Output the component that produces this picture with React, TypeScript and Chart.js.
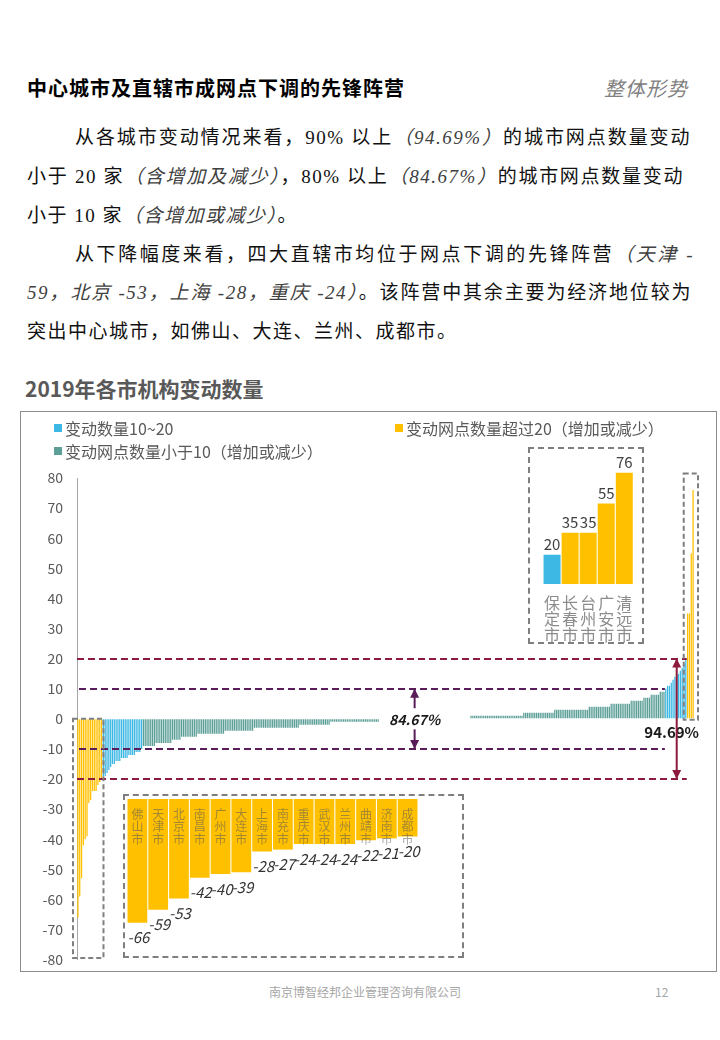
import React, { useEffect, useRef } from "react";
import { Chart, registerables } from "chart.js";

Chart.register(...registerables);

// ---------- colours ----------
const YELLOW = "#FFC000";
const BLUE = "#3DB7E4";
const TEAL = "#5C9F97";
const PURPLE = "#5a1d59";
const CRIMSON = "#8c1b3d";
const FONT = '"Noto Sans CJK SC", "Noto Sans", sans-serif';

// ---------- main chart data (sorted change per city, 339 cities) ----------
const negLarge = [-66, -59, -53, -42, -40, -39, -28, -27, -24, -24, -24, -22, -21, -20];
const negMid = [-19, -19, -18, -17, -16, -15, -15, -14, -14, -14, -13, -13, -13, -13, -12, -12, -12, -12, -11, -11, -11, -10];
const negSmall = [
  -9, -9, -9, -9, -9, -9, -9,
  -8, -8, -8, -8, -8, -8, -8, -8, -8,
  -7, -7, -7, -7, -7,
  -6, -6, -6, -6, -6, -6, -6, -6, -6,
  -5, -5, -5, -5, -5, -5, -5, -5, -5, -5, -5, -5, -5, -5, -5,
  -4, -4, -4, -4, -4, -4, -4, -4, -4, -4, -4, -4, -4, -4, -4, -4,
  -3, -3, -3, -3, -3, -3, -3, -3, -3, -3, -3, -3, -3, -3, -3, -3, -3, -3, -3, -3, -3, -3, -3, -3, -3,
  -2, -2, -2, -2, -2, -2, -2, -2, -2, -2, -2, -2, -2, -2, -2, -2, -2,
  -1, -1, -1, -1, -1, -1, -1, -1, -1, -1, -1, -1, -1, -1, -1, -1, -1, -1, -1, -1, -1, -1, -1, -1, -1, -1, -1,
];
const zeroGroup = [
  0, 0, 0, 0, 0, 0, 0, 0, 0, 0, 0, 0, 0, 0, 0, 0, 0, 0, 0, 0, 0, 0, 0, 0, 0,
  0, 0, 0, 0, 0, 0, 0, 0, 0, 0, 0, 0, 0, 0, 0, 0, 0, 0, 0, 0, 0, 0, 0, 0, 0,
];
const posSmall = [
  1, 1, 1, 1, 1, 1, 1, 1, 1, 1, 1, 1, 1, 1, 1, 1, 1, 1, 1, 1, 1, 1, 1, 1, 1, 1, 1, 1, 1,
  2, 2, 2, 2, 2, 2, 2, 2, 2, 2, 2, 2, 2, 2, 2, 2, 2,
  3, 3, 3, 3, 3, 3, 3, 3, 3, 3, 3, 3, 3, 3, 3, 3, 3, 3, 3,
  4, 4, 4, 4, 4, 4, 4, 4, 4, 4, 4, 4,
  5, 5, 5, 5, 5, 5, 5, 5, 5, 5, 5,
  6, 6, 6, 6, 6, 6, 6,
  7, 7, 7, 7,
  8, 8, 8, 8, 8,
  9, 9, 9,
];
const posMid = [10, 11, 11, 12, 13, 14, 15, 15, 16, 17, 18, 20];
const posLarge = [35, 35, 55, 76];

const legendLabels = ["变动数量10~20", "变动网点数量超过20（增加或减少）", "变动网点数量小于10（增加或减少）"];
const pctUnder10 = "84.67%";
const pctUnder20 = "94.69%";
const arrow84Index = 185;
const arrow94Index = 329;

// ---------- insets ----------
const bottomCities = ["佛山市", "天津市", "北京市", "南昌市", "广州市", "大连市", "上海市", "南充市", "重庆市", "武汉市", "兰州市", "曲靖市", "济南市", "成都市"];
const bottomValues = [-66, -59, -53, -42, -40, -39, -28, -27, -24, -24, -24, -22, -21, -20];
const topCities = ["保定市", "长春市", "台州市", "广安市", "清远市"];
const topValues = [20, 35, 35, 55, 76];

const MAIN_W = 695;
const MAIN_H = 569;

function MainChart() {
  const ref = useRef<HTMLCanvasElement>(null);
  useEffect(() => {
    const groups: [number[], string][] = [
      [negLarge, "y"], [negMid, "b"], [negSmall, "t"], [zeroGroup, "t"],
      [posSmall, "t"], [posMid, "b"], [posLarge, "y"],
    ];
    const pick = (k: string) => {
      const out: (number | null)[] = [];
      groups.forEach(([arr, c]) => arr.forEach((v) => out.push(c === k ? v : null)));
      return out;
    };
    const total = groups.reduce((s, [a]) => s + a.length, 0);
    const labels = Array.from({ length: total }, (_, i) => String(i + 1));
    const iPosMid = negLarge.length + negMid.length + negSmall.length + zeroGroup.length + posSmall.length;
    const iPosLarge = iPosMid + posMid.length;

    const annot = {
      id: "annot",
      afterDatasetsDraw(chart: any) {
        const { ctx, chartArea: ca, scales } = chart;
        const x = scales.x, y = scales.y;
        const step = x.getPixelForValue(1) - x.getPixelForValue(0);
        const leftEdge = (i: number) => x.getPixelForValue(i) - step / 2;
        ctx.save();
        const hline = (v: number, x1: number, x2: number, color: string) => {
          ctx.beginPath();
          ctx.strokeStyle = color;
          ctx.lineWidth = 2;
          ctx.setLineDash([7, 4]);
          ctx.moveTo(x1, Math.round(y.getPixelForValue(v)));
          ctx.lineTo(x2, Math.round(y.getPixelForValue(v)));
          ctx.stroke();
        };
        hline(10, ca.left + 2, leftEdge(iPosMid), PURPLE);
        hline(-10, ca.left + 2, leftEdge(iPosMid), PURPLE);
        hline(20, ca.left, leftEdge(iPosLarge), CRIMSON);
        hline(-20, ca.left, leftEdge(iPosLarge), CRIMSON);

        ctx.setLineDash([5, 3]);
        ctx.strokeStyle = "#7f7f7f";
        ctx.lineWidth = 2;
        const lx1 = ca.left - 4, lx2 = leftEdge(negLarge.length) + 1;
        const ly1 = y.getPixelForValue(0), ly2 = y.getPixelForValue(-79.5);
        ctx.strokeRect(lx1, ly1, lx2 - lx1, ly2 - ly1);
        const rx1 = leftEdge(iPosLarge) - 3, rx2 = ca.right + 4;
        const ry1 = y.getPixelForValue(81.5), ry2 = y.getPixelForValue(0) + 1;
        ctx.strokeRect(rx1, ry1, rx2 - rx1, ry2 - ry1);

        ctx.setLineDash([]);
        const arrow = (xp: number, y1: number, y2: number, color: string, both: boolean) => {
          ctx.strokeStyle = color;
          ctx.fillStyle = color;
          ctx.lineWidth = 2;
          ctx.beginPath();
          ctx.moveTo(xp, y1);
          ctx.lineTo(xp, y2);
          ctx.stroke();
          const head = (tip: number, dir: number) => {
            ctx.beginPath();
            ctx.moveTo(xp, tip);
            ctx.lineTo(xp - 4.5, tip - dir * 9);
            ctx.lineTo(xp + 4.5, tip - dir * 9);
            ctx.closePath();
            ctx.fill();
          };
          head(y2, Math.sign(y2 - y1));
          if (both) head(y1, Math.sign(y1 - y2));
        };
        const xa = x.getPixelForValue(arrow84Index);
        arrow(xa, y.getPixelForValue(3.5), y.getPixelForValue(10), PURPLE, false);
        arrow(xa, y.getPixelForValue(-3.5), y.getPixelForValue(-10), PURPLE, false);
        ctx.font = `italic bold 14px ${FONT}`;
        ctx.fillStyle = "#1a1a1a";
        ctx.textAlign = "center";
        ctx.textBaseline = "middle";
        ctx.fillText(pctUnder10, xa, y.getPixelForValue(0) + 1);
        const xb = x.getPixelForValue(arrow94Index);
        ctx.font = `bold 15px ${FONT}`;
        ctx.fillStyle = "#1a1a1a";
        ctx.fillText(pctUnder20, xb - 5, y.getPixelForValue(-4.6));
        arrow(xb, y.getPixelForValue(-20), y.getPixelForValue(20), CRIMSON, true);
        ctx.restore();
      },
    };

    const chart = new Chart(ref.current!, {
      type: "bar",
      data: {
        labels,
        datasets: [
          { label: legendLabels[0], data: pick("b"), backgroundColor: BLUE },
          { label: legendLabels[1], data: pick("y"), backgroundColor: YELLOW },
          { label: legendLabels[2], data: pick("t"), backgroundColor: TEAL },
        ],
      },
      options: {
        responsive: false,
        animation: false,
        layout: { padding: { top: 65, bottom: 0, right: 22, left: 0 } },
        plugins: { legend: { display: false }, tooltip: { enabled: false } },
        datasets: { bar: { grouped: false, barPercentage: 0.7, categoryPercentage: 1, borderWidth: 0 } },
        scales: {
          x: { display: false, offset: true },
          y: {
            min: -80,
            max: 80,
            ticks: { stepSize: 10, padding: 14, color: "#595959", font: { family: FONT, size: 14 } },
            grid: { display: true, drawOnChartArea: false, drawTicks: false },
            border: { display: true, color: "#a6a6a6", width: 1 },
            afterFit: (s: any) => { s.width = 56; },
          },
        },
      } as any,
      plugins: [annot],
    });
    return () => chart.destroy();
  }, []);
  return <canvas ref={ref} width={MAIN_W} height={MAIN_H} style={{ position: "absolute", left: 21, top: 413, width: MAIN_W, height: MAIN_H }} />;
}

function TopInset() {
  const ref = useRef<HTMLCanvasElement>(null);
  useEffect(() => {
    const valueLabels = {
      id: "vl",
      afterDatasetsDraw(chart: any) {
        const { ctx } = chart;
        const meta = chart.getDatasetMeta(0);
        ctx.save();
        ctx.font = `15px ${FONT}`;
        ctx.fillStyle = "#404040";
        ctx.textAlign = "center";
        ctx.textBaseline = "bottom";
        meta.data.forEach((el: any, i: number) => {
          ctx.fillText(String(topValues[i]), el.x, Math.max(el.y - 3, 23));
        });
        ctx.restore();
      },
    };
    const chart = new Chart(ref.current!, {
      type: "bar",
      data: {
        labels: topCities.map((c) => c.split("")),
        datasets: [{
          data: topValues,
          backgroundColor: topValues.map((v) => (v > 20 ? YELLOW : BLUE)),
          barPercentage: 0.94,
          categoryPercentage: 1,
        }],
      },
      options: {
        responsive: false,
        animation: false,
        layout: { padding: { left: 15, right: 7, top: 20, bottom: 0 } },
        plugins: { legend: { display: false }, tooltip: { enabled: false } },
        scales: {
          y: { display: false, min: 0, max: 80 },
          x: {
            grid: { display: false, drawTicks: false },
            border: { display: false },
            ticks: { color: "#8c8c8c", font: { family: FONT, size: 16, lineHeight: 1 }, padding: 11, autoSkip: false, maxRotation: 0 },
            afterFit: (s: any) => { s.height = 60; },
          },
        },
      } as any,
      plugins: [valueLabels],
    });
    return () => chart.destroy();
  }, []);
  return <canvas ref={ref} width={116} height={197} style={{ position: "absolute", left: 528, top: 447, width: 116, height: 197 }} />;
}

function BottomInset() {
  const ref = useRef<HTMLCanvasElement>(null);
  useEffect(() => {
    const labelsPlugin = {
      id: "bl",
      afterDatasetsDraw(chart: any) {
        const { ctx, chartArea } = chart;
        const meta = chart.getDatasetMeta(0);
        ctx.save();
        ctx.textAlign = "center";
        ctx.textBaseline = "middle";
        meta.data.forEach((el: any, i: number) => {
          ctx.font = `12px ${FONT}`;
          ctx.fillStyle = "rgba(90,90,90,0.55)";
          bottomCities[i].split("").forEach((ch, k) => {
            ctx.fillText(ch, el.x, chartArea.top + 15 + k * 12.5);
          });
          ctx.font = `italic 15px ${FONT}`;
          ctx.fillStyle = "#333333";
          ctx.fillText(String(bottomValues[i]), el.x + 1, el.y + 15);
        });
        ctx.restore();
      },
    };
    const chart = new Chart(ref.current!, {
      type: "bar",
      data: {
        labels: bottomCities,
        datasets: [{ data: bottomValues, backgroundColor: YELLOW, barPercentage: 0.95, categoryPercentage: 1 }],
      },
      options: {
        responsive: false,
        animation: false,
        layout: { padding: { left: 4, right: 46, top: 5, bottom: 9 } },
        plugins: { legend: { display: false }, tooltip: { enabled: false } },
        scales: {
          x: { display: false },
          y: { display: false, min: -80, max: 0 },
        },
      } as any,
      plugins: [labelsPlugin],
    });
    return () => chart.destroy();
  }, []);
  return <canvas ref={ref} width={341} height={164} style={{ position: "absolute", left: 123, top: 794, width: 341, height: 164 }} />;
}

const P = { fontFamily: '"Liberation Serif", "Noto Sans CJK SC", serif', fontSize: 19, letterSpacing: 1.5, color: "#111", lineHeight: "22px", height: 22, position: "absolute" as const };
const IT = { fontStyle: "italic" as const, color: "#404040" };

function Line({ left, top, right, justify, children }: any) {
  return (
    <div style={{ ...P, left, top, width: right ? right - left : undefined, whiteSpace: right ? "normal" : "nowrap", textAlign: justify ? "justify" : "left", textAlignLast: justify ? "justify" : "auto" } as any}>
      {children}
    </div>
  );
}

function LegendItem({ left, top, color, text }: any) {
  return (
    <div style={{ position: "absolute", left, top, height: 20, display: "flex", alignItems: "center", fontFamily: FONT, fontSize: 16, color: "#595959", whiteSpace: "nowrap" }}>
      <span style={{ display: "inline-block", width: 8, height: 8, background: color, marginRight: 3 }} />
      {text}
    </div>
  );
}

export default function App() {
  return (
    <div style={{ position: "absolute", left: 0, top: 0, width: 720, height: 1040, background: "#fff", overflow: "hidden" }}>
      <div style={{ position: "absolute", left: 27, top: 76, fontFamily: FONT, fontWeight: 700, fontSize: 20, letterSpacing: 1, color: "#000", lineHeight: "24px", whiteSpace: "nowrap" }}>
        中心城市及直辖市成网点下调的先锋阵营
      </div>
      <div style={{ position: "absolute", left: 604, top: 76, fontFamily: FONT, fontStyle: "italic", fontSize: 20, letterSpacing: 1, color: "#808080", lineHeight: "24px", whiteSpace: "nowrap" }}>
        整体形势
      </div>

      <Line left={75} top={127} right={691} justify>
        从各城市变动情况来看，90% 以上<span style={IT}>（94.69%）</span>的城市网点数量变动
      </Line>
      <Line left={27} top={166} right={684} justify>
        小于 20 家<span style={IT}>（含增加及减少）</span>，80% 以上<span style={IT}>（84.67%）</span>的城市网点数量变动
      </Line>
      <Line left={27} top={205}>
        小于 10 家<span style={IT}>（含增加或减少）</span>。
      </Line>
      <Line left={75} top={244} right={694} justify>
        从下降幅度来看，四大直辖市均位于网点下调的先锋阵营<span style={IT}>（天津 -</span>
      </Line>
      <Line left={27} top={282} right={692} justify>
        <span style={IT}>59，北京 -53，上海 -28，重庆 -24）</span>。该阵营中其余主要为经济地位较为
      </Line>
      <Line left={27} top={321}>
        突出中心城市，如佛山、大连、兰州、成都市。
      </Line>

      <div style={{ position: "absolute", left: 25, top: 375, fontFamily: FONT, fontWeight: 700, fontSize: 21, color: "#595959", lineHeight: "26px", whiteSpace: "nowrap" }}>
        2019年各市机构变动数量
      </div>

      <div style={{ position: "absolute", left: 20, top: 411, width: 695, height: 559, border: "1px solid #8c8c8c" }} />
      <MainChart />
      <LegendItem left={54} top={418} color={BLUE} text={legendLabels[0]} />
      <LegendItem left={395} top={418} color={YELLOW} text={legendLabels[1]} />
      <LegendItem left={54} top={441} color={TEAL} text={legendLabels[2]} />

      <TopInset />
      <div style={{ position: "absolute", left: 528, top: 447, width: 112, height: 193, border: "2px dashed #7f7f7f", pointerEvents: "none" }} />
      <BottomInset />
      <div style={{ position: "absolute", left: 123, top: 794, width: 337, height: 160, border: "2px dashed #7f7f7f", pointerEvents: "none" }} />

      <div style={{ position: "absolute", left: 0, width: 730, top: 984, textAlign: "center", fontFamily: FONT, fontSize: 12, color: "#a6a6a6", lineHeight: "16px" }}>
        南京博智经邦企业管理咨询有限公司
      </div>
      <div style={{ position: "absolute", left: 655, top: 984, fontFamily: FONT, fontSize: 12, color: "#a6a6a6", lineHeight: "16px" }}>12</div>
    </div>
  );
}
